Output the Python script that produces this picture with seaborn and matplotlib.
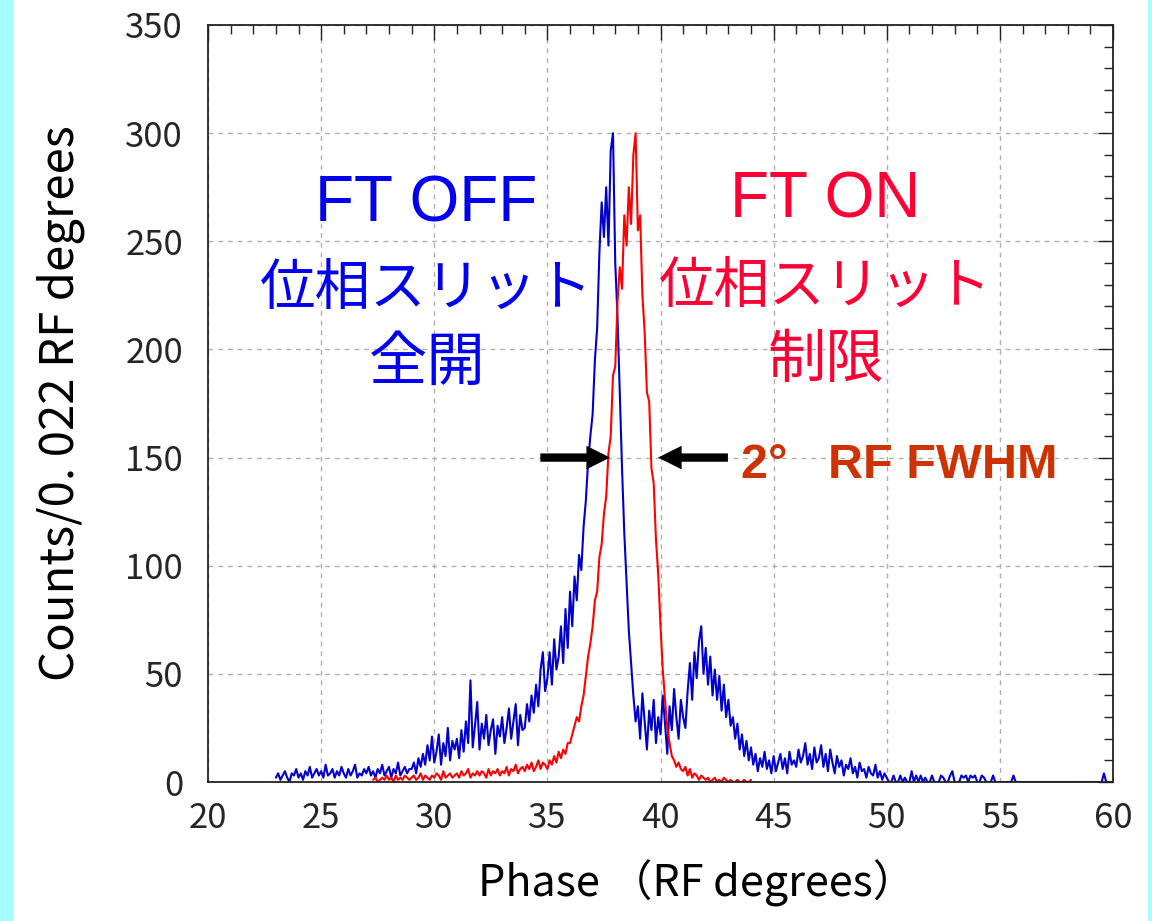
import numpy as np
import pandas as pd
import matplotlib
matplotlib.use("Agg")
import matplotlib.pyplot as plt
import seaborn as sns
from matplotlib.patches import Rectangle
from matplotlib.ticker import MultipleLocator

# ---------------- data (0.1 deg steps) ----------------
ft_off_start = 23.0
ft_on_start = 27.3
bin_step = 0.1

ft_off_counts = [
    2, 4, 1, 3, 5, 2, 0, 4, 3, 6, 2, 4, 1, 5, 3, 7, 2, 4, 6, 3,          # 23.0-24.9
    5, 2, 8, 3, 4, 6, 2, 5, 3, 7, 4, 2, 6, 3, 5, 8, 2, 4, 3, 6,          # 25.0-26.9
    4, 7, 3, 5, 2, 6, 4, 8, 3, 5, 7, 2, 6, 4, 9, 3, 5, 7, 4, 6,          # 27.0-28.9
    6, 9, 4, 11, 7, 13, 8, 17, 10, 21,                                   # 29
    9, 14, 22, 8, 18, 12, 25, 10, 19, 15,                                # 30
    20, 11, 24, 14, 28, 18, 47, 16, 26, 37,                              # 31
    15, 27, 20, 31, 17, 24, 29, 13, 26, 21,                              # 32
    30, 18, 25, 34, 20, 28, 36, 17, 31, 24,                              # 33
    25, 36, 28, 40, 32, 45, 35, 52, 60, 42,                              # 34
    48, 60, 45, 66, 52, 58, 72, 55, 80, 62,                              # 35
    88, 72, 95, 84, 105, 98, 118, 130, 148, 160,                         # 36
    170, 195, 210, 245, 268, 252, 275, 248, 292, 300,                    # 37
    240, 215, 180, 145, 115, 92, 70, 55, 40, 28,                         # 38
    35, 20, 41, 28, 15, 33, 24, 38, 18, 30,                              # 39
    22, 40, 27, 13, 35, 24, 43, 30, 20, 38,                              # 40
    30, 25, 42, 55, 38, 60, 48, 65, 72, 50,                              # 41
    62, 45, 58, 40, 52, 38, 49, 33, 45, 30,                              # 42
    38, 26, 30, 20, 27, 15, 22, 12, 19, 10,                              # 43
    16, 8, 13, 5, 11, 7, 14, 6, 10, 4,                                   # 44
    12, 5, 9, 13, 6, 11, 4, 14, 8, 10,                                   # 45
    7, 15, 9, 12, 18, 8, 13, 6, 16, 9,                                   # 46
    11, 17, 7, 13, 5, 15, 9, 4, 12, 7,                                   # 47
    10, 3, 8, 6, 11, 4, 7, 2, 9, 5,                                      # 48
    6, 2, 7, 4, 3, 8, 2, 5, 1, 4,                                        # 49
    2,                                                                   # 50.0
    0, 0, 3, 0, 0, 3, 0, 2, 0, 0,                                        # 50.1-51.0
    5, 0, 3, 0, 3, 0, 2, 0, 0, 3,
    0, 0, 0, 3, 2, 0, 0, 3, 5, 0,
    0, 0, 3, 2, 3, 0, 3, 2, 3, 0,
    0, 3, 2, 0, 0, 0, 3, 0, 0, 0,
    0, 0, 0, 0, 0, 3, 0, 0, 0, 0,
    0, 0, 0, 0, 0, 0, 0, 0, 0, 0,
    0, 0, 0, 0, 0, 0, 0, 0, 0, 0,
    0, 0, 0, 0, 0, 0, 0, 0, 0, 0,
    0, 0, 0, 0, 0, 4, 0, 0, 0, 0,                                        # 59.1-60.0
]

ft_on_counts = [
    1, 2, 0, 1, 2, 1, 3,                                                 # 27.3-27.9
    1, 2, 0, 3, 1, 2, 1, 3, 2, 1,                                        # 28
    2, 3, 1, 2, 4, 1, 3, 2, 1, 3,                                        # 29
    2, 4, 3, 1, 5, 2, 3, 4, 2, 3,                                        # 30
    4, 2, 5, 3, 4, 6, 2, 4, 3, 5,                                        # 31
    3, 5, 4, 2, 6, 3, 5, 4, 6, 3,                                        # 32
    5, 4, 7, 3, 6, 5, 8, 4, 6, 7,                                        # 33
    5, 8, 6, 9, 5, 7, 10, 6, 9, 8,                                       # 34
    6, 10, 8, 12, 9, 14, 11, 15, 13, 18,                                 # 35
    18, 22, 26, 30, 28, 35, 40, 49, 58, 64,                              # 36
    72, 84, 88, 104, 110, 124, 132, 152, 160, 188,                       # 37
    192, 222, 238, 228, 262, 248, 275, 258, 290, 300,                    # 38
    255, 262, 225, 208, 180, 176, 145, 138, 112, 96,                     # 39
    72, 52, 38, 25, 18, 12, 10, 7, 9, 6,                                 # 40
    5, 7, 3, 6, 2, 4, 3, 1, 3, 2,                                        # 41
    1, 2, 0, 1, 2, 0, 1, 0, 2, 1,                                        # 42
    0, 1, 0, 0, 1, 0, 0, 1, 0, 0,                                        # 43
    1,                                                                   # 44.0
]

x_ticks = [20, 25, 30, 35, 40, 45, 50, 55, 60]
y_ticks = [0, 50, 100, 150, 200, 250, 300, 350]
fwhm_level = 150

# ---------------- style ----------------
sns.set_theme(style="white")
plt.rcParams["font.family"] = ["Noto Sans CJK JP", "DejaVu Sans"]

W, H = 1152, 921
fig = plt.figure(figsize=(W / 100, H / 100), dpi=100)
fig.patch.set_facecolor("white")
fig.patches.append(Rectangle((0, 0), 13 / W, 1, transform=fig.transFigure,
                             facecolor="#A6FFFF", edgecolor="none", zorder=0))
fig.patches.append(Rectangle((1148 / W, 0), 4 / W, 1, transform=fig.transFigure,
                             facecolor="#A6FFFF", edgecolor="none", zorder=0))

ax = fig.add_axes([208 / W, 1 - 782 / H, (1113 - 208) / W, (782 - 25) / H])
ax.set_facecolor("white")

df_off = pd.DataFrame({
    "phase": ft_off_start + bin_step * np.arange(len(ft_off_counts)),
    "counts": ft_off_counts,
})
df_on = pd.DataFrame({
    "phase": ft_on_start + bin_step * np.arange(len(ft_on_counts)),
    "counts": ft_on_counts,
})

sns.lineplot(data=df_off, x="phase", y="counts", color="#0000CC", lw=1.5,
             estimator=None, ax=ax, zorder=3)
sns.lineplot(data=df_on, x="phase", y="counts", color="#FF0000", lw=1.5,
             estimator=None, ax=ax, zorder=4)

ax.set_xlim(x_ticks[0], x_ticks[-1])
ax.set_ylim(y_ticks[0], y_ticks[-1])
ax.set_xticks(x_ticks)
ax.set_yticks(y_ticks)
ax.xaxis.set_minor_locator(MultipleLocator(1))
ax.yaxis.set_minor_locator(MultipleLocator(10))
ax.tick_params(which="both", direction="in", top=True, right=True,
               color="#222222", width=1.0)
ax.tick_params(which="major", length=11, labelsize=25)
ax.tick_params(axis="y", which="major", pad=18)
ax.tick_params(axis="x", which="major", pad=14)
ax.tick_params(which="minor", length=6.5)
ax.grid(True, which="major", color="#b0b0b0", lw=1.0, linestyle=(0, (3.5, 3.5)))
ax.set_axisbelow(True)
for s in ax.spines.values():
    s.set_color("#222222")
    s.set_linewidth(1.3)
    s.set_zorder(5)

ax.set_xlabel("Phase （RF degrees）", fontsize=31, color="black")
ax.set_ylabel("Counts/0. 022 RF degrees", fontsize=34, color="black")
ax.xaxis.set_label_coords(0.54, -0.103)
ax.yaxis.set_label_coords(-0.136, 0.5)

fam = ["Liberation Sans", "Noto Sans CJK JP"]
blue_txt = "#0000F0"
red_txt = "#FF0035"
ax.text(29.66, 267, "FT OFF", color=blue_txt, fontsize=46, family=fam,
        ha="center", va="center")
ax.text(29.66, 227, "位相スリット", color=blue_txt, fontsize=40, family=fam,
        ha="center", va="center")
ax.text(29.7, 193, "全開", color=blue_txt, fontsize=42, family=fam,
        ha="center", va="center")
ax.text(47.3, 269, "FT ON", color=red_txt, fontsize=46, family=fam,
        ha="center", va="center")
ax.text(47.3, 228, "位相スリット", color=red_txt, fontsize=40, family=fam,
        ha="center", va="center")
ax.text(47.3, 194, "制限", color=red_txt, fontsize=42, family=fam,
        ha="center", va="center")
ax.text(43.55, 146.5, "2°   RF FWHM", color="#CC3300", fontsize=35,
        family=fam, fontweight="bold", ha="left", va="center")

arrow_style = "simple,head_length=0.85,head_width=0.85,tail_width=0.3"
ax.annotate("", xy=(37.77, fwhm_level), xytext=(34.69, fwhm_level),
            arrowprops=dict(arrowstyle=arrow_style, fc="black", ec="none",
                            lw=0, mutation_scale=20, shrinkA=0, shrinkB=0),
            zorder=6)
ax.annotate("", xy=(39.89, fwhm_level), xytext=(42.98, fwhm_level),
            arrowprops=dict(arrowstyle=arrow_style, fc="black", ec="none",
                            lw=0, mutation_scale=20, shrinkA=0, shrinkB=0),
            zorder=6)

fig.savefig("out.png", dpi=100)
